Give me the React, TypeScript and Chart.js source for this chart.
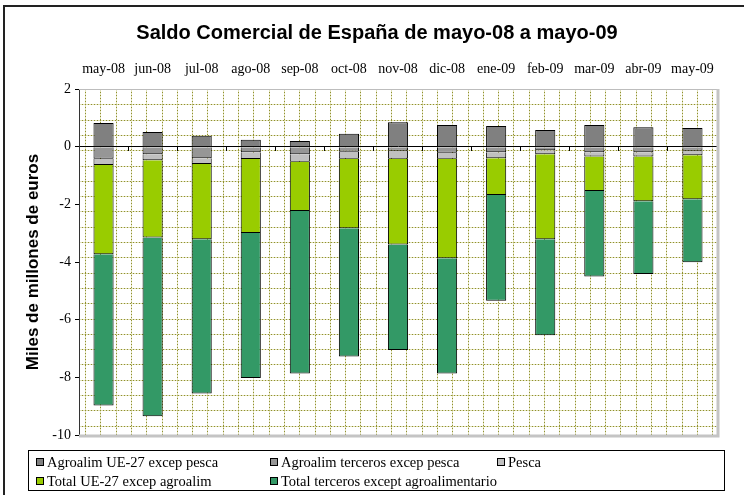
import React, { useEffect, useRef } from 'react';
import { Chart, registerables } from 'chart.js';

Chart.register(...registerables);

const months = ['may-08', 'jun-08', 'jul-08', 'ago-08', 'sep-08', 'oct-08', 'nov-08', 'dic-08', 'ene-09', 'feb-09', 'mar-09', 'abr-09', 'may-09'];

const agroUE27 = [0.82, 0.51, 0.38, 0.24, 0.2, 0.45, 0.85, 0.75, 0.72, 0.58, 0.75, 0.67, 0.65];
const agroTerceros = [-0.42, -0.26, -0.4, -0.19, -0.26, -0.18, -0.14, -0.21, -0.19, -0.12, -0.19, -0.19, -0.14];
const pesca = [-0.22, -0.21, -0.2, -0.24, -0.26, -0.24, -0.28, -0.21, -0.21, -0.14, -0.15, -0.15, -0.16];
const totalUE27 = [-3.09, -2.68, -2.61, -2.56, -1.71, -2.41, -2.97, -3.45, -1.28, -2.95, -1.2, -1.55, -1.52];
const totalTerceros = [-5.25, -6.2, -5.35, -5.03, -5.64, -4.45, -3.66, -4.0, -3.66, -3.33, -2.96, -2.53, -2.19];

const seriesLabels = [
  'Agroalim UE-27 excep pesca',
  'Agroalim terceros excep pesca',
  'Pesca',
  'Total UE-27 excep agroalim',
  'Total terceros except agroalimentario',
];
const seriesColors = ['#808080', '#969696', '#C0C0C0', '#99CC00', '#339966'];

const titleText = 'Saldo Comercial de España de mayo-08 a mayo-09';
const yTitle = 'Miles de millones de euros';
const yMin = -10;
const yMax = 2;
const yStep = 2;

const SERIF = '"Liberation Serif", "Times New Roman", serif';
const SANS = '"Liberation Sans", Arial, sans-serif';

const backgroundPlugin = {
  id: 'bgPattern',
  beforeDraw(chart: any) {
    const { ctx, chartArea } = chart;
    const { left, top, right, bottom } = chartArea;
    ctx.save();
    ctx.fillStyle = '#ffffff';
    ctx.fillRect(0, 0, chart.width, chart.height);
    // outer frame (left and top visible)
    ctx.strokeStyle = '#222';
    ctx.lineWidth = 2;
    ctx.beginPath();
    ctx.moveTo(4, chart.height + 5);
    ctx.lineTo(4, 6);
    ctx.lineTo(chart.width + 5, 6);
    ctx.stroke();
    // dotted grid fill pattern of plot area
    const step = 15.3;
    ctx.lineWidth = 1;
    const drawLine = (x1: number, y1: number, x2: number, y2: number) => {
      ctx.strokeStyle = 'rgba(205,205,140,0.6)';
      ctx.setLineDash([]);
      ctx.beginPath();
      ctx.moveTo(x1, y1);
      ctx.lineTo(x2, y2);
      ctx.stroke();
      ctx.strokeStyle = '#8f8f2e';
      ctx.setLineDash([1, 2]);
      ctx.beginPath();
      ctx.moveTo(x1, y1);
      ctx.lineTo(x2, y2);
      ctx.stroke();
    };
    for (let x = left + 6; x < right - 1; x += step) {
      const px = Math.round(x) + 0.5;
      drawLine(px, top, px, bottom);
    }
    for (let y = top; y < bottom - 1; y += step) {
      const py = Math.round(y) + 0.5;
      drawLine(left, py, right, py);
    }
    ctx.restore();
  },
  afterDraw(chart: any) {
    const { ctx, chartArea } = chart;
    const { left, top, right, bottom } = chartArea;
    ctx.save();
    // plot area border
    ctx.strokeStyle = '#bdbdbd';
    ctx.lineWidth = 1;
    ctx.beginPath();
    ctx.moveTo(left, Math.round(top) + 0.5);
    ctx.lineTo(right, Math.round(top) + 0.5);
    ctx.stroke();
    ctx.lineWidth = 3;
    ctx.strokeStyle = '#c4c4c4';
    ctx.beginPath();
    ctx.moveTo(left, Math.round(bottom) + 1);
    ctx.lineTo(Math.round(right) + 1, Math.round(bottom) + 1);
    ctx.lineTo(Math.round(right) + 1, top);
    ctx.stroke();

    // title
    ctx.fillStyle = '#000';
    ctx.font = `bold 20px ${SANS}`;
    ctx.textAlign = 'center';
    ctx.textBaseline = 'middle';
    ctx.fillText(titleText, 377, 33);

    // legend
    const lx = 28.5, ly = 450.5, lw = 696, lh = 40;
    ctx.strokeStyle = '#000';
    ctx.lineWidth = 1;
    ctx.strokeRect(lx, ly, lw, lh);
    const cols = [36, 270, 497];
    const rows = [462, 481];
    const positions = [
      [0, 0], [1, 0], [2, 0], [0, 1], [1, 1],
    ];
    ctx.font = `14.5px ${SERIF}`;
    ctx.textAlign = 'left';
    ctx.textBaseline = 'middle';
    chart.data.datasets.forEach((ds: any, i: number) => {
      const [c, r] = positions[i];
      const bx = cols[c];
      const by = rows[r];
      ctx.fillStyle = ds.backgroundColor;
      ctx.fillRect(bx, by - 4, 8, 8);
      ctx.strokeStyle = '#000';
      ctx.strokeRect(bx + 0.5, by - 3.5, 7, 7);
      ctx.fillStyle = '#000';
      ctx.fillText(ds.label, bx + 11, by + 1);
    });
    ctx.restore();
  },
};

export default function App() {
  const canvasRef = useRef<HTMLCanvasElement | null>(null);

  useEffect(() => {
    if (!canvasRef.current) return;
    const datasetsSrc = [agroUE27, agroTerceros, pesca, totalUE27, totalTerceros];
    const chart = new Chart(canvasRef.current, {
      type: 'bar',
      data: {
        labels: months,
        datasets: datasetsSrc.map((d, i) => ({
          label: seriesLabels[i],
          data: d,
          backgroundColor: seriesColors[i],
          borderColor: '#000',
          borderWidth: 1,
          stack: 's',
          barPercentage: 0.41,
          categoryPercentage: 1,
        })),
      },
      options: {
        animation: false,
        responsive: false,
        maintainAspectRatio: false,
        layout: { padding: { top: 59, left: 4, right: 27, bottom: 60 } },
        plugins: {
          legend: { display: false },
          title: { display: false },
          tooltip: { enabled: false },
        },
        scales: {
          x: {
            position: 'top',
            stacked: true,
            grid: { display: false, drawTicks: false },
            border: { display: false },
            ticks: {
              color: '#000',
              font: { family: SERIF, size: 14 },
              padding: 11,
              maxRotation: 0,
              autoSkip: false,
            },
            afterFit: (s: any) => {
              s.height = 30;
            },
          },
          x0: {
            type: 'category',
            axis: 'x',
            position: { y: 0 },
            offset: true,
            grid: { drawOnChartArea: false, drawTicks: true, tickLength: 4, color: '#000', offset: true },
            border: { display: true, color: '#000', width: 1 },
            ticks: { display: false },
          },
          y: {
            stacked: true,
            min: yMin,
            max: yMax,
            ticks: {
              stepSize: yStep,
              color: '#000',
              font: { family: SERIF, size: 14 },
              padding: 4,
            },
            grid: { drawOnChartArea: false, drawTicks: true, tickLength: 4, color: '#000' },
            border: { display: true, color: '#333', width: 1 },
            title: {
              display: true,
              text: yTitle,
              color: '#000',
              font: { family: SANS, size: 17, weight: 'bold' },
              padding: { top: 19, bottom: 0 },
            },
            afterFit: (s: any) => {
              s.width = 75;
            },
          },
        },
      } as any,
      plugins: [backgroundPlugin],
    });
    return () => chart.destroy();
  }, []);

  return (
    <div style={{ position: 'fixed', left: 0, top: 0, width: 744, height: 495, background: '#fff' }}>
      <canvas ref={canvasRef} width={744} height={495} style={{ width: 744, height: 495, display: 'block' }} />
    </div>
  );
}
